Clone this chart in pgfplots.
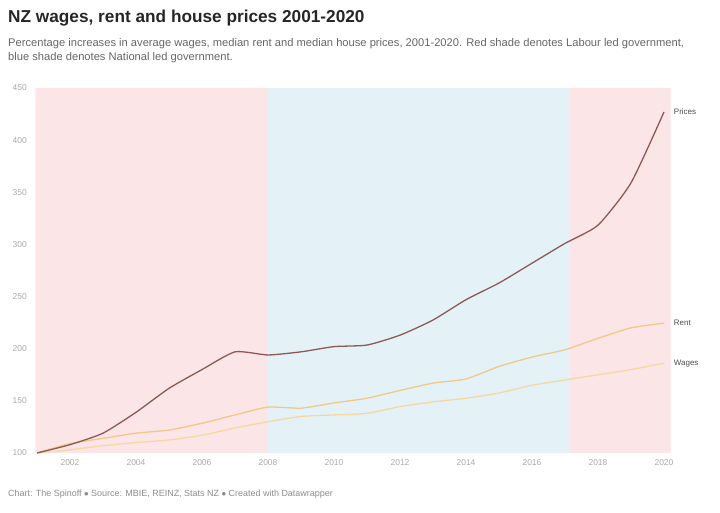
\documentclass[border=0pt]{standalone}
\usepackage{pgfplots}
\pgfplotsset{compat=1.18}
\usepackage{fontspec}
\setmainfont{Liberation Sans}

\definecolor{prices}{HTML}{8C5A55}
\definecolor{rent}{HTML}{F0C888}
\definecolor{wages}{HTML}{F4D8A4}
\definecolor{labour}{HTML}{FBE5E6}
\definecolor{national}{HTML}{E4F2F8}
\definecolor{ticktext}{HTML}{A8A8A8}

\pgfplotstableread{
year prices rent wages
2001 100 100 100
2002 108 109 103
2003 119 114 107
2004 139 119 110
2005 162 122 112.5
2006 180 128.5 117
2007 197 136.5 124
2008 194 144 130
2009 197 143 135
2010 202 148 136.5
2011 203.5 152.5 138
2012 213 160 144.5
2013 227.5 167 149
2014 247 171 152.5
2015 263 183 157.5
2016 282 192 165
2017 301 199 170
2018 318.5 210 175
2019 359 220 180
2020 427 224.5 186
}\nzdata

\begin{document}
\begin{tikzpicture}
\path[use as bounding box] (0,0) rectangle (720bp,513bp);

\node[anchor=west, font=\fontsize{17.3}{20}\selectfont\bfseries, text=black!85, inner sep=0pt] at (8bp,495bp)
  {NZ wages, rent and house prices 2001-2020};
\node[anchor=north west, align=left, text=black!60, font=\fontsize{11.2}{14.5}\selectfont, inner sep=0pt] at (8bp,475bp)
  {Percentage increases in average wages, median rent and median house prices, 2001-2020. Red shade denotes Labour led government,\\
   blue shade denotes National led government.};
\node[anchor=west, text=black!45, font=\fontsize{9}{11}\selectfont, inner sep=0pt] at (8bp,19bp)
  {Chart: The Spinoff $\bullet$ Source: MBIE, REINZ, Stats NZ $\bullet$ Created with Datawrapper};

\begin{axis}[
    at={(35.35bp,60bp)}, anchor=south west,
    scale only axis,
    width=635.25bp, height=365bp,
    xmin=2000.95, xmax=2020.2,
    ymin=100, ymax=450,
    axis line style={draw=none},
    xtick={2002,2004,...,2020},
    ytick={100,150,...,450},
    xticklabel style={/pgf/number format/1000 sep={}, text=ticktext, font=\fontsize{8.5}{10}\selectfont, yshift=-3bp},
    yticklabel style={text=ticktext, font=\fontsize{8.5}{10}\selectfont, xshift=-5bp},
    major tick length=3bp,
    xtick style={draw=black!10},
    ytick style={draw=none},
    /pgf/number format/assume math mode=true,
    clip=false,
]
% government shading
\addplot[fill=labour, draw=none] coordinates {(2000.95,100) (2000.95,450) (2008,450) (2008,100)} \closedcycle;
\addplot[fill=national, draw=none] coordinates {(2008,100) (2008,450) (2017.15,450) (2017.15,100)} \closedcycle;
\addplot[fill=labour, draw=none] coordinates {(2017.15,100) (2017.15,450) (2020.2,450) (2020.2,100)} \closedcycle;

\addplot[wages, line width=1.3bp, smooth, tension=0.35] table[x=year, y=wages] {\nzdata}
  node[pos=1, anchor=west, xshift=6bp, text=black!70, font=\fontsize{8}{9}\selectfont] {Wages};
\addplot[rent, line width=1.3bp, smooth, tension=0.35] table[x=year, y=rent] {\nzdata}
  node[pos=1, anchor=west, xshift=6bp, text=black!70, font=\fontsize{8}{9}\selectfont] {Rent};
\addplot[prices, line width=1.3bp, smooth, tension=0.35] table[x=year, y=prices] {\nzdata}
  node[pos=1, anchor=west, xshift=6bp, text=black!70, font=\fontsize{8}{9}\selectfont] {Prices};
\end{axis}
\end{tikzpicture}
\end{document}
